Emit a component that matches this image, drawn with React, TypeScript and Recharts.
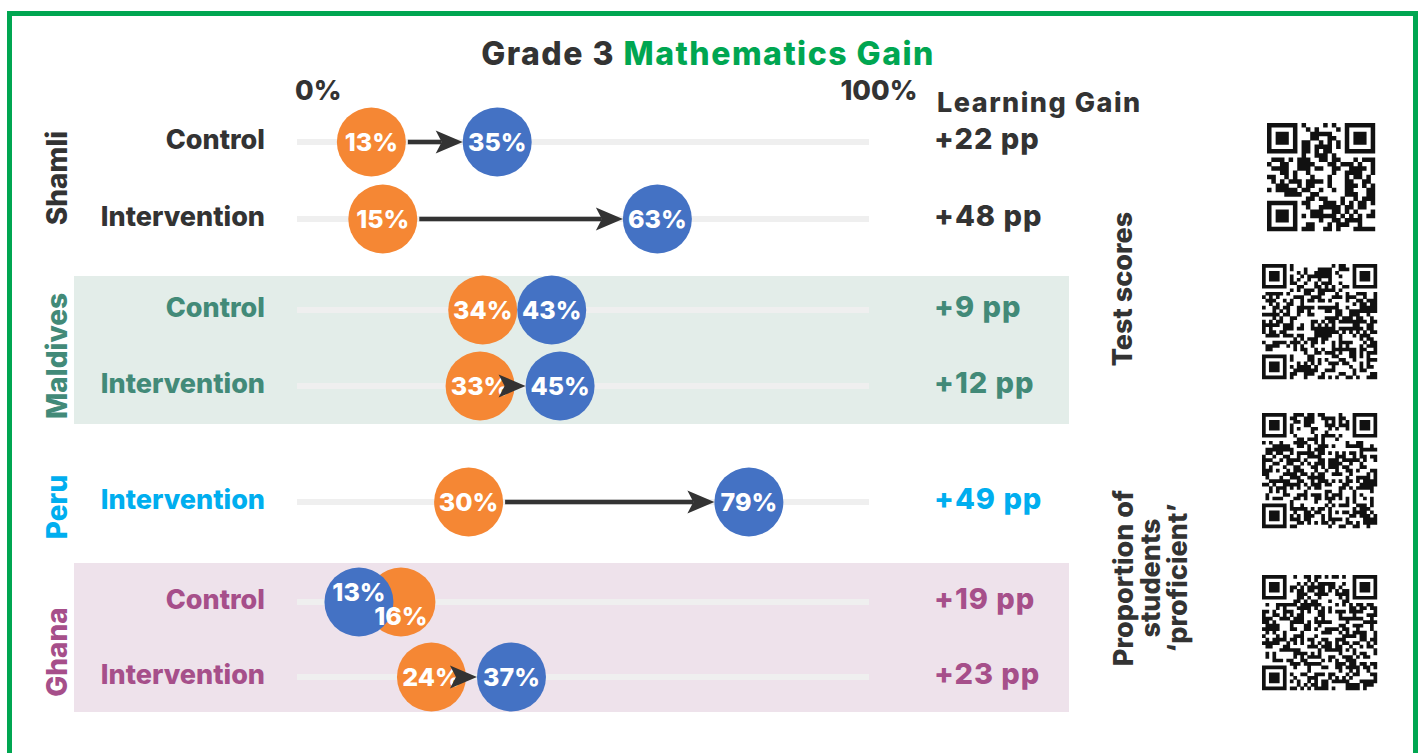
import React from "react";
import { Bar, ComposedChart, ReferenceLine, XAxis, YAxis } from "recharts";

const FONT = "Inter, 'Noto Sans', sans-serif";
const DARK = "#333333";
const GREEN = "#00a651";
const ORANGE = "#f58734";
const BLUE = "#4472c4";

// rows top to bottom
const groupNames = ["Shamli", "Maldives", "Peru", "Ghana"];
const groupOfRow = [0, 0, 1, 1, 2, 3, 3];
const armLabels = ["Control", "Intervention", "Control", "Intervention", "Intervention", "Control", "Intervention"];
const baselinePct = [13, 15, 34, 33, 30, 16, 24];
const endlinePct = [35, 63, 43, 45, 79, 13, 37];
const gainLabels = ["+22 pp", "+48 pp", "+9 pp", "+12 pp", "+49 pp", "+19 pp", "+23 pp"];
const axisTicks = [0, 100];

const groupColors = [DARK, "#428a78", "#00aeef", "#a64f8a"];

// layout only
const groupBoxes = [
  { top: 103, height: 154 },
  { top: 272, height: 152 },
  { top: 464, height: 76 },
  { top: 564, height: 150 },
];
const bands = [
  { top: 276, height: 148, fill: "#e3ede9" },
  { top: 563, height: 149, fill: "#eee2eb" },
];
const groupLabelY = [178, 356, 507, 652];
const R = 34.5;

function Track(props: any) {
  const { x, y, width, height } = props;
  if (x == null || y == null) return <g />;
  return <rect x={x} y={y + height / 2 - 3} width={width} height={6} fill="#efefef" />;
}

function RowShape(props: any) {
  const { x, y, width, height, payload } = props;
  if (x == null || y == null) return <g />;
  const cy = y + height / 2;
  let bx = x;
  let ex = x + width;
  const d = ex - bx;
  // arrow when the gain is clear enough to point at
  const showArrow = payload.end - payload.base >= 10;
  const tight = Math.abs(d) < 40;
  const minSep = showArrow ? 80 : tight ? 42 : 2 * R;
  if (Math.abs(d) < minSep) {
    const mid = (bx + ex) / 2;
    const dir = d >= 0 ? 1 : -1;
    bx = mid - (dir * minSep) / 2;
    ex = mid + (dir * minSep) / 2;
  }
  const leftIsBase = bx <= ex;
  const baseDy = tight ? (leftIsBase ? -10 : 13.5) : 0;
  const endDy = tight ? (leftIsBase ? 13.5 : -10) : 0;
  const tip = ex - R;
  const headLen = 27;
  const half = 11.5;
  const notch = 6;
  const txt = {
    fill: "#fff",
    fontSize: 25,
    fontWeight: 800,
    fontFamily: FONT,
    textAnchor: "middle" as const,
  };
  return (
    <g>
      <circle cx={bx} cy={cy} r={R} fill={ORANGE} />
      <circle cx={ex} cy={cy} r={R} fill={BLUE} />
      <text x={bx} y={cy + 9 + baseDy} {...txt}>{`${payload.base}%`}</text>
      <text x={ex} y={cy + 9 + endDy} {...txt}>{`${payload.end}%`}</text>
      {showArrow && (
        <g>
          {tip - headLen + notch > bx + R + 2 && (
            <line x1={bx + R + 2} y1={cy} x2={tip - headLen + notch} y2={cy} stroke={DARK} strokeWidth={4.5} />
          )}
          <path
            d={`M${tip},${cy} L${tip - headLen},${cy - half} L${tip - headLen + notch},${cy} L${tip - headLen},${cy + half} Z`}
            fill={DARK}
          />
        </g>
      )}
    </g>
  );
}

function GroupChart({ g }: { g: number }) {
  const idx = groupOfRow.map((gr, i) => (gr === g ? i : -1)).filter((i) => i >= 0);
  const data = idx.map((i) => ({
    arm: armLabels[i],
    base: baselinePct[i],
    end: endlinePct[i],
    range: [baselinePct[i], endlinePct[i]],
    gain: gainLabels[i],
  }));
  const box = groupBoxes[g];
  const color = groupColors[g];
  const tick = (p: any) => {
    const row = data[p.index];
    return (
      <g>
        <text
          x={p.x - 32}
          y={p.y + 7}
          textAnchor="end"
          fill={color}
          fontSize={27}
          fontWeight={800}
          fontFamily={FONT}
        >
          {p.payload.value}
        </text>
        <text
          x={p.x + 637}
          y={p.y + 7}
          textAnchor="start"
          fill={color}
          fontSize={29}
          fontWeight={800}
          letterSpacing={1}
          fontFamily={FONT}
        >
          {row ? row.gain : ""}
        </text>
      </g>
    );
  };
  return (
    <div style={{ position: "absolute", left: 75, top: box.top }}>
      <ComposedChart
        layout="vertical"
        width={995}
        height={box.height}
        data={data}
        margin={{ top: 0, right: 201, bottom: 0, left: 0 }}
      >
        <XAxis type="number" domain={[0, 100]} hide />
        <YAxis
          type="category"
          dataKey="arm"
          width={222}
          axisLine={false}
          tickLine={false}
          tickSize={0}
          tickMargin={0}
          tick={tick}
          interval={0}
        />
        <Bar
          dataKey="range"
          barSize={70}
          isAnimationActive={false}
          shape={(p: any) => <RowShape {...p} />}
          background={(p: any) => <Track {...p} />}
        />
      </ComposedChart>
    </div>
  );
}

function AxisChart() {
  const tick = (p: any) => {
    const v = p.payload.value;
    return (
      <text
        x={v === 0 ? p.x - 2 : p.x + 10}
        y={100}
        textAnchor={v === 0 ? "start" : "middle"}
        fill={DARK}
        fontSize={27}
        fontWeight={800}
        fontFamily={FONT}
      >
        {`${v}%`}
      </text>
    );
  };
  return (
    <div style={{ position: "absolute", left: 0, top: 0 }}>
      <ComposedChart
        width={1425}
        height={753}
        data={axisTicks.map((v) => ({ v }))}
        margin={{ top: 83, right: 556, bottom: 16, left: 297 }}
      >
        <XAxis
          type="number"
          dataKey="v"
          orientation="top"
          domain={[0, 100]}
          ticks={axisTicks}
          height={30}
          axisLine={false}
          tickLine={false}
          tick={tick}
        />
        <YAxis hide />
        {axisTicks.map((v) => (
          <ReferenceLine key={v} x={v} stroke={GREEN} strokeWidth={5} />
        ))}
      </ComposedChart>
    </div>
  );
}

function hashBit(r: number, c: number, seed: number) {
  let h = (r * 73856093) ^ (c * 19349663) ^ (seed * 83492791);
  h = Math.imul(h ^ (h >>> 13), 0x5bd1e995);
  h ^= h >>> 15;
  return (h >>> 7) & 1;
}

function QrCode({ x, y, size, n, seed }: { x: number; y: number; size: number; n: number; seed: number }) {
  const cell = size / n;
  let d = "";
  const inFinder = (r: number, c: number) => {
    const spots = [
      [0, 0],
      [0, n - 7],
      [n - 7, 0],
    ];
    for (const [fr, fc] of spots) {
      if (r >= fr - 1 && r <= fr + 7 && c >= fc - 1 && c <= fc + 7) {
        const rr = r - fr;
        const cc = c - fc;
        if (rr < 0 || rr > 6 || cc < 0 || cc > 6) return 0;
        if (rr === 0 || rr === 6 || cc === 0 || cc === 6) return 1;
        if (rr >= 2 && rr <= 4 && cc >= 2 && cc <= 4) return 1;
        return 0;
      }
    }
    return -1;
  };
  for (let r = 0; r < n; r++) {
    for (let c = 0; c < n; c++) {
      const f = inFinder(r, c);
      const on = f === -1 ? hashBit(r, c, seed) : f;
      if (on) d += `M${x + c * cell},${y + r * cell}h${cell + 0.2}v${cell + 0.2}h${-cell - 0.2}z`;
    }
  }
  return <path d={d} fill="#111" />;
}

export default function App() {
  const label = { fill: DARK, fontFamily: FONT, fontWeight: 800 };
  return (
    <div
      style={{
        position: "absolute",
        left: 0,
        top: 0,
        width: 1425,
        height: 753,
        overflow: "hidden",
        background: "#fff",
        fontFamily: FONT,
      }}
    >
      <div
        style={{
          position: "absolute",
          left: 7,
          top: 11,
          width: 1411,
          height: 800,
          border: `5px solid ${GREEN}`,
          boxSizing: "border-box",
        }}
      />
      {bands.map((b, i) => (
        <div
          key={i}
          style={{ position: "absolute", left: 74, top: b.top, width: 995, height: b.height, background: b.fill }}
        />
      ))}
      {groupNames.map((_, g) => (
        <GroupChart key={g} g={g} />
      ))}
      <AxisChart />
      <svg width={1425} height={753} style={{ position: "absolute", left: 0, top: 0, pointerEvents: "none" }}>
        <text x={708} y={65} textAnchor="middle" fontSize={32} letterSpacing={1.5} {...label}>
          <tspan fill={DARK}>{"Grade 3 "}</tspan>
          <tspan fill={GREEN}>{"Mathematics Gain"}</tspan>
        </text>
        <text x={937} y={112} fontSize={27} letterSpacing={1.5} {...label}>
          Learning Gain
        </text>
        {groupNames.map((name, g) => (
          <text
            key={name}
            transform={`translate(67, ${groupLabelY[g]}) rotate(-90)`}
            textAnchor="middle"
            fontSize={28}
            fontFamily={FONT}
            fontWeight={800}
            fill={groupColors[g]}
          >
            {name}
          </text>
        ))}
        <text transform="translate(1132, 289) rotate(-90)" textAnchor="middle" fontSize={27} {...label}>
          Test scores
        </text>
        <text transform="translate(1133, 578) rotate(-90)" textAnchor="middle" fontSize={27} {...label}>
          <tspan x={0} dy={0}>Proportion of</tspan>
          <tspan x={0} dy={27}>students</tspan>
          <tspan x={0} dy={27}>{"\u2018proficient\u2019"}</tspan>
        </text>
        <QrCode x={1267} y={123} size={108} n={25} seed={1} />
        <QrCode x={1262} y={264} size={115} n={33} seed={2} />
        <QrCode x={1262} y={413} size={115} n={33} seed={3} />
        <QrCode x={1262} y={575} size={115} n={33} seed={4} />
      </svg>
    </div>
  );
}
